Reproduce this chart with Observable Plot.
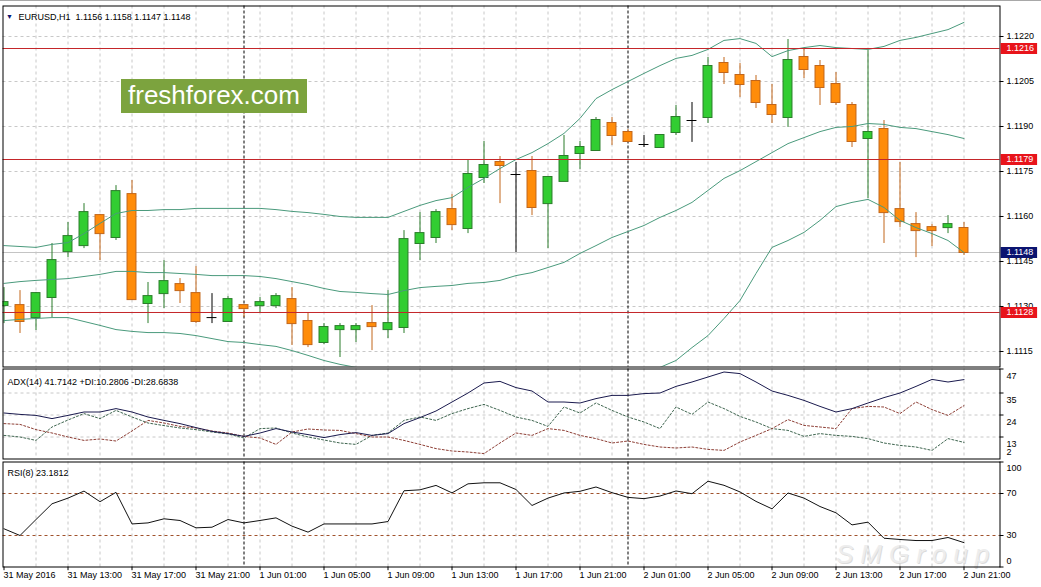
<!DOCTYPE html>
<html><head><meta charset="utf-8">
<script src="https://cdn.jsdelivr.net/npm/d3@7"></script>
<script src="https://cdn.jsdelivr.net/npm/@observablehq/plot@0.6"></script>
<style>
body{margin:0;background:#fff;}
#wrap{position:relative;width:1041px;height:587px;overflow:hidden;font-family:"Liberation Sans",Arial,sans-serif;background:#fff;}
#wrap svg{position:absolute;left:0;}
</style></head><body><div id="wrap"></div>
<script>
// ---- Data (EURUSD H1, bar index 0 = 31 May 2016 09:00) ----
const open  = [1.11303,1.11303,1.11263,1.1133,1.11483,1.11503,1.11603,1.1153,1.11673,1.1131,
  1.11343,1.11373,1.11343,1.11263,1.1125,1.11303,1.11303,1.11303,1.11323,1.1125,
  1.1118,1.11223,1.11223,1.11243,1.11223,1.1123,1.1151,1.1153,1.11623,1.1156,
  1.1173,1.1178,1.1174,1.1175,1.11643,1.11717,1.1181,1.1182,1.1191,1.1188,
  1.1184,1.1183,1.1188,1.1192,1.1193,1.1211,1.1207,1.1205,1.1197,1.1193,
  1.1213,1.121,1.1204,1.1197,1.1186,1.1189,1.11623,1.11573,1.11563,1.11563,1.1156];
const high  = [1.11363,1.11353,1.11347,1.1151,1.1158,1.11643,1.11607,1.11703,1.1172,1.1138,
  1.11453,1.11393,1.11433,1.11343,1.11333,1.11303,1.1133,1.11343,1.11363,1.1128,
  1.11243,1.11243,1.11243,1.11303,1.11353,1.11553,1.11613,1.11623,1.11673,1.11787,
  1.1185,1.118,1.1178,1.118,1.1173,1.1187,1.1185,1.1193,1.1193,1.1189,
  1.1187,1.1187,1.1197,1.1198,1.1213,1.1213,1.1211,1.1207,1.1204,1.1219,
  1.1216,1.1212,1.1208,1.1198,1.12153,1.1192,1.1178,1.11613,1.11573,1.11603,1.1158];
const low   = [1.11243,1.1121,1.1122,1.11263,1.11463,1.11493,1.11453,1.1152,1.1132,1.11243,
  1.11293,1.1131,1.11243,1.11243,1.1125,1.11263,1.1128,1.11293,1.1117,1.11163,
  1.11173,1.1113,1.1118,1.11153,1.11193,1.1121,1.11453,1.1151,1.11553,1.11543,
  1.1171,1.11643,1.1148,1.11603,1.11493,1.11717,1.11757,1.1182,1.11837,1.1185,
  1.1183,1.1183,1.1187,1.11847,1.1191,1.1204,1.11997,1.1196,1.1191,1.11897,
  1.1206,1.1197,1.1197,1.1183,1.1166,1.1151,1.11563,1.11463,1.115,1.11543,1.1147];
const close = [1.11313,1.1125,1.11343,1.11453,1.11533,1.11613,1.11543,1.11683,1.11323,1.11333,
  1.11383,1.11353,1.1125,1.11263,1.11323,1.11293,1.11313,1.11333,1.11243,1.11173,
  1.1123,1.11233,1.11233,1.11233,1.11243,1.11523,1.11543,1.11613,1.11573,1.1174,
  1.1177,1.1177,1.1174,1.1163,1.1173,1.118,1.1183,1.1192,1.1187,1.1185,
  1.1184,1.1187,1.1193,1.1192,1.121,1.1208,1.1204,1.1198,1.1194,1.1212,
  1.1209,1.1203,1.1198,1.1185,1.1188,1.11613,1.11583,1.11553,1.11553,1.11573,1.1148];
const bbUpper = [1.11503,1.1150,1.11497,1.11507,1.11513,1.11543,1.11577,1.1161,1.1162,1.1162,
  1.11623,1.11623,1.11627,1.11627,1.11627,1.11627,1.11627,1.11623,1.11617,1.11613,
  1.11607,1.1160,1.11597,1.11597,1.11597,1.11617,1.11637,1.11653,1.11663,1.11697,
  1.11727,1.1176,1.1179,1.11813,1.11843,1.11877,1.11927,1.11993,1.12023,1.1205,
  1.12077,1.12103,1.12127,1.12137,1.12157,1.12187,1.12193,1.12177,1.12133,1.12153,
  1.12163,1.1217,1.12163,1.1216,1.12157,1.12167,1.12187,1.12197,1.1221,1.12223,1.12247];
const bbMiddle = [1.11377,1.11383,1.11387,1.1139,1.11393,1.114,1.11407,1.11417,1.11417,1.11413,
  1.11413,1.1141,1.11407,1.11403,1.11403,1.11403,1.114,1.11393,1.11383,1.11373,
  1.1136,1.1135,1.11347,1.11343,1.1134,1.11353,1.11363,1.11367,1.1137,1.11377,
  1.1138,1.11387,1.11403,1.11413,1.1143,1.11447,1.11477,1.11503,1.1153,1.1155,
  1.1157,1.11597,1.1162,1.11647,1.11687,1.11727,1.11753,1.11783,1.11813,1.11843,
  1.11863,1.11883,1.11897,1.119,1.1191,1.11907,1.11897,1.11893,1.11883,1.11873,1.1186];
const bbLower = [1.11253,1.11257,1.1126,1.11263,1.11263,1.1125,1.11237,1.11223,1.11217,1.11213,
  1.11213,1.1121,1.11203,1.11193,1.11183,1.1118,1.11173,1.11167,1.11153,1.11137,
  1.1112,1.11107,1.11097,1.11087,1.1108,1.11087,1.1107,1.1106,1.1105,1.11037,
  1.11027,1.1102,1.11013,1.11013,1.11017,1.11017,1.11027,1.11013,1.11037,1.1105,
  1.11063,1.11097,1.1112,1.11163,1.11203,1.1126,1.1132,1.1141,1.11497,1.1152,
  1.11547,1.11587,1.11633,1.11647,1.11657,1.1163,1.11587,1.11563,1.11543,1.1152,1.1148];
const adx = [25,24.3,23.8,22.2,23.8,25.5,25.5,27.2,25.5,23,21.3,19.7,17.7,15.8,14.7,13.3,15,17.2,15.5,14.2,12.7,14.2,
  15.2,13.8,14.7,19.7,22.7,26,30.5,35,40,40.8,37.7,36,30.5,30.5,30,32.2,33.8,33.8,34.7,35,
  38.3,40.5,43,45.5,44.7,40.5,36,33.8,31.3,28.3,25.5,27.2,30,32.7,35,38.3,41.8,40.5,41.7];
const plusDI = [13.8,13,11.3,18,21.5,24.7,22.2,26.3,23,20,18.7,17.5,16.7,15.5,14.5,12.5,17.2,17.5,15,13,11.5,10,
  9.3,13.8,15,21.3,23,21.3,24.7,27.2,29.3,26.3,23,21.3,18.3,28,25,30,26.3,23,20.5,17.2,
  28,24.3,30.5,27.2,23.3,20.5,17.2,16.3,13.3,14.7,13.8,13.3,12.2,10,8.8,8,6.3,12.2,10.3];
const minusDI = [19.7,19.3,16.7,15,13,11.3,12,11,16,21.3,20,18.3,17.5,16,15,13.3,12.5,9.3,15.5,17,16.5,16.3,
  14.7,13,13,11.3,9.3,7.2,6,5.5,4.7,10,15,13.8,17.2,16.3,13.8,12.2,10,11,9.3,8,
  7.5,8,6.8,6.3,10.5,13.8,17.2,21.7,18.8,18,17.2,27.2,28.3,28,24.7,30.5,26.7,23.8,28.7];
const rsi = [36.4,30,45.2,60.2,65.6,72.3,62.2,71.1,41,42,45.9,44.3,37.3,37.9,45.2,42,44.3,46.8,38.9,33.2,
  41,41,41,41,43.3,72.6,73.5,77.7,70.6,79.2,80.2,80.2,73.8,
  58.6,65.6,70.5,72.1,76.2,70.8,66.3,65.1,67.6,72.4,69.8,81.7,77.8,71.5,62.5,55.4,70.5,65.6,
  57.6,51.6,40.1,42.7,27.4,26.2,25.2,25.2,28.1,23.2];

const xTickBars = [0,4,8,12,16,20,24,28,32,36,40,44,48,52,56,60];
const xTickLabels = ["31 May 2016","31 May 13:00","31 May 17:00","31 May 21:00","1 Jun 01:00","1 Jun 05:00",
  "1 Jun 09:00","1 Jun 13:00","1 Jun 17:00","1 Jun 21:00","2 Jun 01:00","2 Jun 05:00","2 Jun 09:00",
  "2 Jun 13:00","2 Jun 17:00","2 Jun 21:00"];
const daySeparators = [15, 39];
const priceTicks = [1.1115,1.1130,1.1145,1.1160,1.1175,1.1190,1.1205,1.1220];
const redLevels = [1.1216,1.1179,1.1128];
const bidPrice = 1.1148;
const adxTicks = [47,35,24,13];
const adxBottomTick = [2];
const adxGrid = [35,24,13];
const rsiLevels = [70,30];
const headerText = "EURUSD,H1  1.1156 1.1158 1.1147 1.1148";
const adxTitle = "ADX(14) 41.7142 +DI:10.2806 -DI:28.6838";
const rsiTitle = "RSI(8) 23.1812";

// ---- Build ----
const bars = open.map((o,i) => ({i, open:o, high:high[i], low:low[i], close:close[i],
  up:bbUpper[i], mid:bbMiddle[i], lo:bbLower[i], adx:adx[i], pdi:plusDI[i], mdi:minusDI[i], rsi:rsi[i]}));
const bull = bars.filter(d => d.close > d.open);
const bear = bars.filter(d => d.close < d.open);
const doji = bars.filter(d => d.close === d.open);
const gridBars = d3.range(2, 61, 2);

const FONT = "Liberation Sans, Arial, sans-serif";
const base = {width:1041, marginLeft:2.5, marginRight:41.5,
  x:{domain:[-0.0625, 62.25], axis:null},
  style:{background:"transparent", fontFamily:FONT, overflow:"visible"}};
const gridStyle = {stroke:"#c8c8c8", strokeDasharray:"3,3"};
const sepStyle = {stroke:"#000", strokeDasharray:"3,2"};
const XR1 = 62.25, XR2 = 62.5, BX1 = 62.32, BX2 = 64.6;
const bandColor = "#4a9a7c";
const bullStroke = "#2a7d2a", bearStroke = "#c2661a";
const txt = {fontSize:9, fill:"#000"};

const main = Plot.plot({...base, height:367, marginTop:5.5, marginBottom:0.5,
  y:{domain:[1.110983, 1.123017], axis:null},
  marks:[
    Plot.ruleX(gridBars, gridStyle),
    Plot.ruleY(priceTicks, gridStyle),
    Plot.ruleY([bidPrice], {stroke:"#c4c4c4"}),
    Plot.ruleX(daySeparators, sepStyle),
    Plot.ruleX(bull, {x:"i", y1:"low", y2:"high", stroke:bullStroke, clip:true}),
    Plot.ruleX(bear, {x:"i", y1:"low", y2:"high", stroke:bearStroke, clip:true}),
    Plot.ruleX(doji, {x:"i", y1:"low", y2:"high", stroke:"#000", clip:true}),
    Plot.rect(bull, {x1:d=>d.i-0.28, x2:d=>d.i+0.28, y1:"open", y2:"close", fill:"#32cd32", stroke:bullStroke, insetTop:-0.5, insetBottom:-0.5, clip:true}),
    Plot.rect(bear, {x1:d=>d.i-0.28, x2:d=>d.i+0.28, y1:"open", y2:"close", fill:"#ff8c0a", stroke:bearStroke, insetTop:-0.5, insetBottom:-0.5, clip:true}),
    Plot.ruleY(doji, {y:"open", x1:d=>d.i-0.31, x2:d=>d.i+0.31, stroke:"#000", clip:true}),
    Plot.line(bars, {x:"i", y:"up", stroke:bandColor, strokeWidth:1, clip:true}),
    Plot.line(bars, {x:"i", y:"mid", stroke:bandColor, strokeWidth:1, clip:true}),
    Plot.line(bars, {x:"i", y:"lo", stroke:bandColor, strokeWidth:1, clip:true}),
    Plot.ruleY(redLevels, {stroke:"#c4262a"}),
    Plot.frame({stroke:"#000"}),
    Plot.ruleY(priceTicks, {x1:XR1, x2:XR2, stroke:"#000"}),
    Plot.text(priceTicks, {...txt, y:d=>d, text:d=>d.toFixed(4), frameAnchor:"right", dx:6.5, textAnchor:"start"}),
    Plot.ruleY(redLevels, {x1:BX1, x2:BX2, stroke:"#e8141b", strokeWidth:11}),
    Plot.text(redLevels, {...txt, fill:"#fff", y:d=>d, text:d=>d.toFixed(4), frameAnchor:"right", dx:6.5, textAnchor:"start"}),
    Plot.ruleY([bidPrice], {x1:BX1, x2:BX2, stroke:"#0b1470", strokeWidth:11}),
    Plot.text([bidPrice], {...txt, fill:"#fff", y:d=>d, text:d=>d.toFixed(4), frameAnchor:"right", dx:6.5, textAnchor:"start"}),
    Plot.text(["\u25BC"], {fontSize:7, fill:"#0b1470", text:d=>d, frameAnchor:"top-left", dx:6.5, dy:8, textAnchor:"middle"}),
    Plot.text([headerText], {...txt, text:d=>d, frameAnchor:"top-left", dx:15.5, dy:8, textAnchor:"start"})
  ]});

const adxPlot = Plot.plot({...base, height:93, marginTop:1.5, marginBottom:1.5,
  y:{domain:[2,47], axis:null},
  marks:[
    Plot.ruleX(gridBars, gridStyle),
    Plot.ruleY(adxGrid, gridStyle),
    Plot.ruleX(daySeparators, sepStyle),
    Plot.line(bars, {x:"i", y:"pdi", stroke:"#3f6650", strokeWidth:1, strokeDasharray:"2,2"}),
    Plot.line(bars, {x:"i", y:"mdi", stroke:"#8e3f36", strokeWidth:1, strokeDasharray:"2,2"}),
    Plot.line(bars, {x:"i", y:"adx", stroke:"#1a1a4e", strokeWidth:1}),
    Plot.frame({stroke:"#000"}),
    Plot.ruleY(adxTicks, {x1:XR1, x2:XR2, stroke:"#000"}),
    Plot.text(adxTicks, {...txt, y:d=>d, text:d=>String(d), frameAnchor:"right", dx:6.5, textAnchor:"start", lineAnchor:"top", dy:3.5}),
    Plot.text(adxBottomTick, {...txt, y:d=>d, text:d=>String(d), frameAnchor:"right", dx:6.5, textAnchor:"start", lineAnchor:"bottom", dy:-4.5}),
    Plot.text([adxTitle], {...txt, text:d=>d, frameAnchor:"top-left", dx:4.5, dy:9.5, textAnchor:"start"})
  ]});

const rsiPlot = Plot.plot({...base, height:127, marginTop:1.5, marginBottom:20.5,
  y:{domain:[0,100], axis:null},
  marks:[
    Plot.ruleX(gridBars, gridStyle),
    Plot.ruleY(rsiLevels, {stroke:"#a0522d", strokeDasharray:"3,3"}),
    Plot.ruleX(daySeparators, sepStyle),
    Plot.line(bars, {x:"i", y:"rsi", stroke:"#111", strokeWidth:1}),
    Plot.frame({stroke:"#000"}),
    Plot.ruleY([100,70,30,0], {x1:XR1, x2:XR2, stroke:"#000"}),
    Plot.text([100], {...txt, y:d=>d, text:d=>String(d), frameAnchor:"right", dx:6.5, textAnchor:"start", lineAnchor:"top", dy:2.5}),
    Plot.text(rsiLevels, {...txt, y:d=>d, text:d=>String(d), frameAnchor:"right", dx:6.5, textAnchor:"start"}),
    Plot.text([0], {...txt, y:d=>d, text:d=>String(d), frameAnchor:"right", dx:6.5, textAnchor:"start", lineAnchor:"bottom", dy:-3}),
    Plot.text([rsiTitle], {...txt, text:d=>d, frameAnchor:"top-left", dx:4.5, dy:8, textAnchor:"start"}),
    Plot.ruleX(xTickBars, {y1:0, y2:-3.5, stroke:"#000"}),
    Plot.text(xTickBars, {...txt, x:d=>d, text:(d,i)=>xTickLabels[i], frameAnchor:"bottom", dy:10.5, dx:-0.5, textAnchor:"start"})
  ]});

const wrap = document.getElementById("wrap");
const wm2 = document.createElement("div");
wm2.textContent = "SMGroup";
wm2.style.cssText = "position:absolute;left:836px;top:544px;height:20px;font:italic 26px 'Liberation Sans',Arial,sans-serif;line-height:20px;letter-spacing:7px;color:#ededed;text-shadow:1px 1px 0 #dcdcdc;white-space:nowrap;";
wrap.appendChild(wm2);
const topLine = document.createElement("div");
topLine.style.cssText = "position:absolute;left:0;top:0;width:1041px;height:1px;background:#a8a8a8;";
wrap.appendChild(topLine);
[[main,0],[adxPlot,367],[rsiPlot,460]].forEach(([el,t]) => { el.style.top = t + "px"; wrap.appendChild(el); });
const wm = document.createElement("div");
wm.textContent = "freshforex.com";
wm.style.cssText = "position:absolute;left:121px;top:79px;width:186px;height:34px;background:#7ca33e;color:#fff;font:26px 'Liberation Sans',Arial,sans-serif;line-height:33px;text-align:center;";
wrap.appendChild(wm);
</script></body></html>
